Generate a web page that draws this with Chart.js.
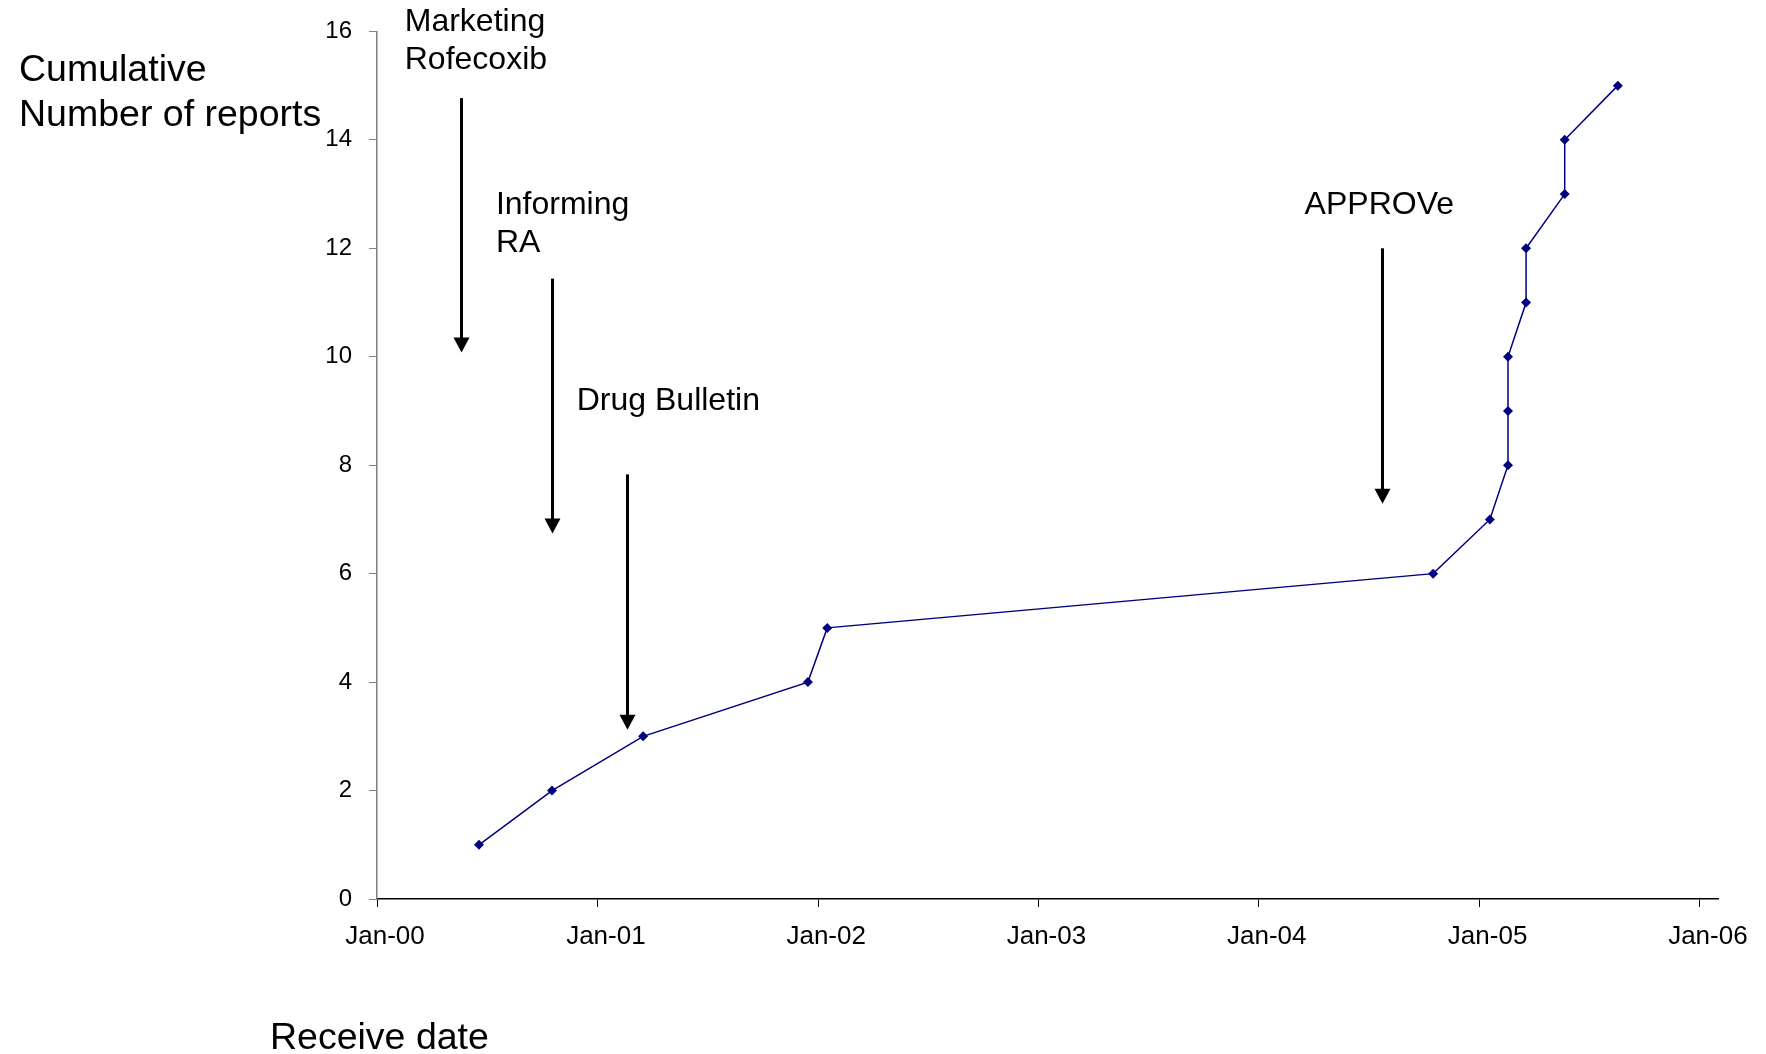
<!DOCTYPE html>
<html>
<head>
<meta charset="utf-8">
<title>Cumulative number of reports by receive date</title>
<script src="https://cdn.jsdelivr.net/npm/chart.js@4"></script>
<style>
  html, body { margin: 0; padding: 0; background: #ffffff; }
  #wrap { width: 1766px; height: 1054px; position: relative; }
  canvas { display: block; }
</style>
</head>
<body>
<div id="wrap"><canvas id="chart" width="1766" height="1054"></canvas></div>
<script>
// Receive date of each report and the running total
const receiveDates = [
  '2000-06-18', '2000-10-17', '2001-03-17', '2001-12-15', '2002-01-16',
  '2004-10-16', '2005-01-18', '2005-02-17', '2005-02-17', '2005-02-17',
  '2005-03-19', '2005-03-19', '2005-05-22', '2005-05-22', '2005-08-18'
];
const cumulativeReports = [1, 2, 3, 4, 5, 6, 7, 8, 9, 10, 11, 12, 13, 14, 15];

// Axis ticks
const yearTickDates = ['2000-01-01', '2001-01-01', '2002-01-01', '2003-01-01', '2004-01-01', '2005-01-01', '2006-01-01'];
const yearTickLabels = ['Jan-00', 'Jan-01', 'Jan-02', 'Jan-03', 'Jan-04', 'Jan-05', 'Jan-06'];
const axisEndDate = '2006-01-31';
const countTicks = [0, 2, 4, 6, 8, 10, 12, 14, 16];

// Events marked with arrows
const eventLabels = [['Marketing', 'Rofecoxib'], ['Informing', 'RA'], ['Drug Bulletin'], ['APPROVe']];
const eventTextDates = ['2000-02-16', '2000-07-16', '2000-11-27', '2004-03-17'];
const eventTextLevels = [16.0, 12.63, 9.01, 12.63];
const eventArrowDates = ['2000-05-19', '2000-10-17', '2001-02-19', '2004-07-24'];
const eventArrowFrom = [14.77, 11.44, 7.83, 12.0];
const eventArrowTo = [10.08, 6.74, 3.12, 7.29];

const FONT = '"Liberation Sans", Arial, Helvetica, sans-serif';
const DAY_MS = 86400000;
const ORIGIN = Date.UTC(2000, 0, 1);
function dayNumber(iso) {
  const [y, m, d] = iso.split('-').map(Number);
  return (Date.UTC(y, m - 1, d) - ORIGIN) / DAY_MS;
}

const points = receiveDates.map((d, i) => ({ x: dayNumber(d), y: cumulativeReports[i] }));

// Arrows, event names and axis titles
const annotationPlugin = {
  id: 'eventAnnotations',
  afterDraw(chart) {
    const ctx = chart.ctx;
    const xs = chart.scales.x;
    const ys = chart.scales.y;
    ctx.save();
    ctx.fillStyle = '#000000';
    ctx.strokeStyle = '#000000';
    ctx.textAlign = 'left';
    ctx.textBaseline = 'alphabetic';

    ctx.font = '32px ' + FONT;
    eventLabels.forEach((lines, i) => {
      const tx = xs.getPixelForValue(dayNumber(eventTextDates[i]));
      const ty = ys.getPixelForValue(eventTextLevels[i]);
      lines.forEach((t, j) => ctx.fillText(t, tx, ty + j * 37.5));

      const ax = Math.round(xs.getPixelForValue(dayNumber(eventArrowDates[i]))) + 0.5;
      const y0 = ys.getPixelForValue(eventArrowFrom[i]);
      const y1 = ys.getPixelForValue(eventArrowTo[i]);
      const headH = 15, headW = 8;
      ctx.lineWidth = 3;
      ctx.beginPath();
      ctx.moveTo(ax, y0);
      ctx.lineTo(ax, y1 - headH + 1);
      ctx.stroke();
      ctx.beginPath();
      ctx.moveTo(ax - headW, y1 - headH);
      ctx.lineTo(ax + headW, y1 - headH);
      ctx.lineTo(ax, y1);
      ctx.closePath();
      ctx.fill();
    });

    ctx.font = '37.5px ' + FONT;
    ctx.fillText('Cumulative', 19, 81);
    ctx.fillText('Number of reports', 19, 126);
    ctx.fillText('Receive date', 270, 1049);
    ctx.restore();
  }
};

new Chart(document.getElementById('chart'), {
  type: 'line',
  data: {
    datasets: [{
      label: 'Cumulative number of reports',
      data: points,
      borderColor: '#000080',
      backgroundColor: '#000080',
      borderWidth: 1.5,
      pointStyle: 'rectRot',
      pointRadius: 5,
      pointBorderWidth: 0,
      pointBackgroundColor: '#000080',
      tension: 0,
      fill: false
    }]
  },
  options: {
    responsive: false,
    animation: false,
    events: [],
    layout: { padding: { top: 30, right: 48, left: 0, bottom: 0 } },
    plugins: {
      legend: { display: false },
      tooltip: { enabled: false },
      title: { display: false }
    },
    scales: {
      x: {
        type: 'linear',
        min: 0,
        max: dayNumber(axisEndDate),
        afterBuildTicks(scale) {
          scale.ticks = yearTickDates.map(d => ({ value: dayNumber(d) }));
        },
        afterFit(scale) { scale.height = 155; },
        ticks: {
          autoSkip: false,
          maxRotation: 0,
          padding: 14,
          labelOffset: 8,
          color: '#000000',
          font: { family: FONT, size: 26 },
          callback: (v, i) => yearTickLabels[i]
        },
        grid: {
          drawOnChartArea: false,
          drawTicks: true,
          tickLength: 8,
          color: '#000000',
          lineWidth: 1
        },
        border: { display: true, color: '#000000', width: 1.5 }
      },
      y: {
        type: 'linear',
        min: 0,
        max: 16,
        afterBuildTicks(scale) {
          scale.ticks = countTicks.map(v => ({ value: v }));
        },
        afterFit(scale) { scale.width = 377; },
        ticks: {
          padding: 17,
          color: '#000000',
          font: { family: FONT, size: 24 }
        },
        grid: {
          drawOnChartArea: false,
          drawTicks: true,
          tickLength: 8,
          color: '#808080',
          lineWidth: 1
        },
        border: { display: true, color: '#808080', width: 1.5 }
      }
    }
  },
  plugins: [annotationPlugin]
});
</script>
</body>
</html>
